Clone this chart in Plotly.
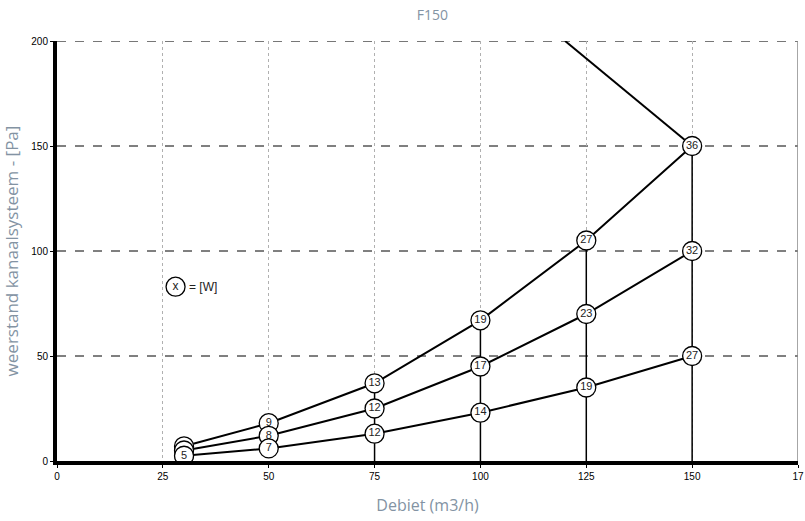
import plotly.graph_objects as go

flow = [30, 50, 75, 100, 125, 150]
p_high = [7, 18, 37, 67, 105, 150]
p_mid = [5, 12, 25, 45, 70, 100]
p_low = [2.5, 6, 13, 23, 35, 50]
w_high = ["", "9", "13", "19", "27", "36"]
w_mid = ["", "8", "12", "17", "23", "32"]
w_low = ["5", "7", "12", "14", "19", "27"]
vline_x = [75, 100, 125, 150]
vline_top = [37, 67, 105, 150]
max_x = [120, 150]
max_y = [200, 150]
x_ticks = [0, 25, 50, 75, 100, 125, 150, 175]
x_ticklabels = ["0", "25", "50", "75", "100", "125", "150", "17"]
y_ticks = [0, 50, 100, 150, 200]
y_ticklabels = ["0", "50", "100", "150", "200"]

fig = go.Figure()

# vertical operating lines
for xv, yt in zip(vline_x, vline_top):
    fig.add_trace(go.Scatter(x=[xv, xv], y=[0, yt], mode="lines",
                             line=dict(color="black", width=1.5),
                             showlegend=False, hoverinfo="skip"))

# max line
fig.add_trace(go.Scatter(x=max_x, y=max_y, mode="lines",
                         line=dict(color="black", width=2),
                         showlegend=False))

for ys, txt in [(p_high, w_high), (p_mid, w_mid), (p_low, w_low)]:
    fig.add_trace(go.Scatter(
        x=flow, y=ys, mode="lines+markers+text", text=txt,
        textposition="middle center",
        textfont=dict(family="Liberation Sans, Arial", size=11, color="#222"),
        line=dict(color="black", width=2),
        marker=dict(size=19, color="white", line=dict(color="black", width=1.3)),
        showlegend=False))

# legend symbol
fig.add_trace(go.Scatter(x=[28], y=[83], mode="markers+text", text=["x"],
                         textposition="middle center",
                         textfont=dict(family="Liberation Sans, Arial", size=12, color="#222"),
                         marker=dict(size=19, color="white", line=dict(color="black", width=1.3)),
                         showlegend=False))
fig.add_annotation(x=30.6, y=83, text="= [W]", showarrow=False, xanchor="left",
                   font=dict(family="Liberation Sans, Arial", size=12, color="#222"))

shapes = []
for yv in [50, 100, 150]:
    shapes.append(dict(type="line", xref="paper", x0=0, x1=1, yref="y", y0=yv, y1=yv,
                       line=dict(color="black", width=1, dash="dash"), layer="below"))
shapes.append(dict(type="line", xref="paper", x0=0, x1=1, yref="y", y0=200, y1=200,
                   line=dict(color="#777", width=2, dash="dash"), layer="below"))
shapes.append(dict(type="line", xref="x", x0=175, x1=175, yref="paper", y0=0, y1=1,
                   line=dict(color="#888", width=1.5), layer="below"))
fig.update_layout(shapes=shapes)

fig.update_layout(
    width=805, height=521,
    margin=dict(l=57, r=7, t=41, b=60),
    plot_bgcolor="white", paper_bgcolor="white",
    title=dict(text="F150", x=0.537, xanchor="center", y=0.98, yanchor="top",
               font=dict(family="Open Sans", size=14, color="#8393a3")),
    xaxis=dict(range=[0, 175], tickvals=x_ticks, ticktext=x_ticklabels,
               showgrid=True, gridcolor="#b0b0b0", griddash="dot", gridwidth=1,
               showline=True, linecolor="black", linewidth=4,
               ticks="outside", ticklen=3, tickcolor="black",
               zeroline=False, automargin=False,
               tickfont=dict(family="Liberation Sans, Arial", size=10, color="black"),
               title=dict(text="Debiet (m3/h)", standoff=20,
                          font=dict(family="Open Sans", size=16, color="#8393a3"))),
    yaxis=dict(range=[0, 200], tickvals=y_ticks, ticktext=y_ticklabels,
               showgrid=False, zeroline=False, automargin=False,
               showline=True, linecolor="black", linewidth=4,
               ticks="outside", ticklen=3, tickcolor="black",
               tickfont=dict(family="Liberation Sans, Arial", size=10, color="black"),
               title=dict(text="weerstand kanaalsysteem - [Pa]", standoff=14,
                          font=dict(family="Open Sans", size=17, color="#8393a3"))),
)

fig.write_html("out.html", config={"displayModeBar": False},
               post_script="document.body.style.margin='0';")
